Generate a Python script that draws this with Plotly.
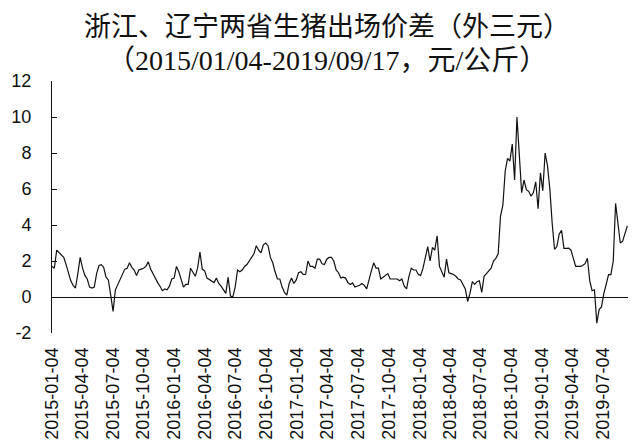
import plotly.graph_objects as go
import pandas as pd

start_date = "2015-01-04"
end_date = "2019-09-17"

# weekly readings of the Zhejiang - Liaoning live hog price spread (yuan/kg)
spread = [
    1.7, 1.6, 2.6, 2.45, 2.3, 2.2, 1.8, 1.4, 0.9, 0.65,
    0.5, 1.3, 2.2, 1.6, 1.2, 1.0, 0.55, 0.5, 0.55, 1.3,
    1.75, 1.8, 1.65, 1.1, 0.95, 0.1, -0.8, 0.4, 0.7, 1.0,
    1.3, 1.55, 1.6, 1.9, 1.65, 1.5, 1.2, 1.5, 1.55, 1.6,
    1.7, 1.95, 1.55, 1.3, 1.0, 0.8, 0.6, 0.35, 0.45, 0.4,
    0.6, 1.0, 1.05, 1.7, 1.4, 0.9, 0.55, 0.7, 0.7, 1.6,
    1.35, 1.15, 1.6, 2.5, 1.55, 1.45, 1.05, 0.95, 0.87, 0.8,
    1.05, 0.75, 0.6, 0.4, 0.2, 1.1, 0.05, 0.0, 0.55, 1.5,
    1.4, 1.5, 1.7, 1.8, 2.0, 2.15, 2.4, 2.85, 2.6, 2.45,
    2.9, 3.0, 2.85, 2.2, 1.9, 1.4, 1.0, 1.0, 0.55, 0.25,
    0.1, 0.75, 1.05, 0.75, 0.95, 1.35, 1.4, 1.25, 1.25, 2.0,
    1.7, 1.7, 1.6, 2.1, 2.1, 1.85, 1.8, 2.1, 2.2, 2.2,
    2.0, 1.5, 1.35, 1.05, 1.1, 1.05, 0.8, 0.7, 0.78, 0.55,
    0.6, 0.65, 0.75, 0.65, 0.45, 1.0, 1.45, 1.9, 1.6, 1.6,
    1.0, 1.1, 1.2, 1.3, 1.0, 1.0, 1.0, 1.0, 0.9, 1.0,
    0.6, 0.45, 1.15, 1.6, 1.5, 1.5, 1.25, 1.2, 1.6, 2.2,
    2.8, 2.0, 2.75, 2.6, 3.4, 1.7, 1.4, 1.1, 2.1, 1.35,
    1.3, 1.25, 1.15, 1.0, 0.95, 0.65, 0.45, -0.25, 0.2, 0.85,
    0.7, 0.85, 0.9, 0.25, 1.15, 1.3, 1.45, 1.6, 2.0, 2.15,
    2.4, 4.5, 5.1, 7.0, 7.7, 7.55, 8.5, 6.5, 10.0, 7.6,
    5.8, 6.5, 5.96, 5.87, 5.6, 5.8, 6.4, 4.9, 6.9, 5.9,
    8.0, 7.3, 6.0, 4.1, 2.65, 2.8, 3.5, 3.7, 2.7, 2.7,
    2.72, 2.6, 2.15, 1.7, 1.7, 1.7, 1.75, 1.85, 2.15, 0.9,
    0.35, 0.4, -1.45, -0.7, -0.55, 0.2, 0.7, 1.24, 1.24, 2.0,
    5.2, 4.0, 3.0, 3.1, 3.5, 3.95,
]
dates = pd.date_range(start_date, periods=len(spread), freq="7D")

tick_dates = [
    "2015-01-04", "2015-04-04", "2015-07-04", "2015-10-04",
    "2016-01-04", "2016-04-04", "2016-07-04", "2016-10-04",
    "2017-01-04", "2017-04-04", "2017-07-04", "2017-10-04",
    "2018-01-04", "2018-04-04", "2018-07-04", "2018-10-04",
    "2019-01-04", "2019-04-04", "2019-07-04",
]
y_ticks = [-2, 0, 2, 4, 6, 8, 10, 12]

title_line1 = "浙江、辽宁两省生猪出场价差（外三元）"
title_line2 = "（2015/01/04-2019/09/17，元/公斤）"

fig = go.Figure()
fig.add_trace(go.Scatter(
    x=dates, y=spread, mode="lines",
    line=dict(color="#111111", width=1.2),
    hoverinfo="skip",
))

tick_font = dict(family="Liberation Sans, Arial, sans-serif", size=18, color="#111111")
title_font1 = dict(family="Liberation Serif, Noto Sans CJK SC, serif", size=27, color="#111111")
title_font2 = dict(family="Liberation Serif, Noto Sans CJK SC, serif", size=28, color="#111111")

fig.update_layout(
    width=640, height=448,
    margin=dict(l=44, r=20, t=73, b=123, autoexpand=False),
    paper_bgcolor="white", plot_bgcolor="white",
    showlegend=False,
    xaxis=dict(
        type="date", range=[start_date, end_date],
        tickmode="array", tickvals=tick_dates, ticktext=tick_dates,
        tickangle=-90, tickfont=tick_font, automargin=False,
        showgrid=False, showline=False, zeroline=False, ticks="",
        ticklabelstandoff=10,
    ),
    yaxis=dict(
        range=[-2, 12], tickmode="array", tickvals=y_ticks,
        ticktext=[str(v) for v in y_ticks],
        tickfont=tick_font, automargin=False,
        showgrid=False, showline=True, linecolor="#111111", linewidth=1,
        ticks="inside", ticklen=5, tickcolor="#111111",
        zeroline=True, zerolinecolor="#111111", zerolinewidth=1,
        ticklabelstandoff=16,
    ),
    annotations=[
        dict(text=title_line1, xref="paper", yref="paper", x=0.478, y=1.214,
             xanchor="center", yanchor="middle", showarrow=False, font=title_font1),
        dict(text=title_line2, xref="paper", yref="paper", x=0.478, y=1.083,
             xanchor="center", yanchor="middle", showarrow=False, font=title_font2),
    ],
)

fig.write_html("out.html")
